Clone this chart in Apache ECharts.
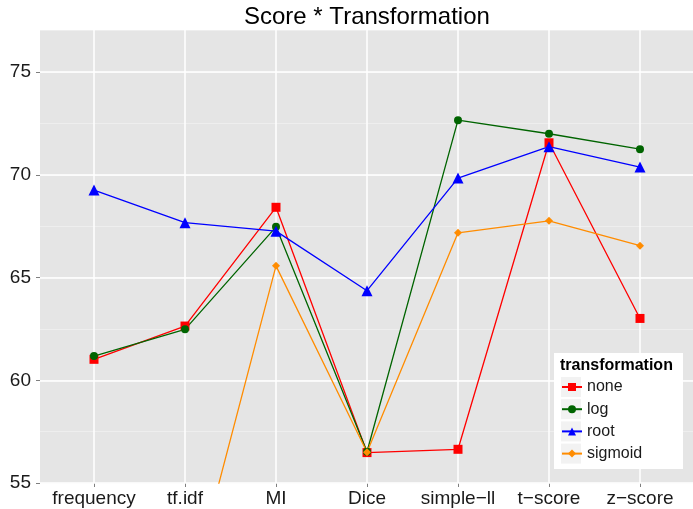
<!DOCTYPE html>
<html><head><meta charset="utf-8">
<script src="https://cdn.jsdelivr.net/npm/echarts@6/dist/echarts.min.js"></script>
<style>html,body{margin:0;padding:0;background:#fff}#c{width:693px;height:509px}</style>
</head><body><div id="c"></div>
<script>
const categories = ['frequency', 'tf.idf', 'MI', 'Dice', 'simple\u2212ll', 't\u2212score', 'z\u2212score'];
const seriesNames = ['none', 'log', 'root', 'sigmoid'];
const none = [61.02, 62.64, 68.42, 56.48, 56.64, 71.56, 63.01];
const log = [61.18, 62.48, 67.47, 56.52, 72.66, 72.00, 71.25];
const root = [69.26, 67.67, 67.26, 64.36, 69.84, 71.37, 70.38];
const sigmoid = [47.5, 48.7, 65.57, 56.50, 67.18, 67.76, 66.55];
const yTicks = [55, 60, 65, 70, 75];
const yMin = 55, yMax = 77.05;

const FONT = '"Liberation Sans", Arial, sans-serif';
const TXT = '#1a1a1a';
const TICK = '#7f7f7f';

const styles = [
  { color: '#ff0000', symbol: 'rect', size: 9 },
  { color: '#006400', symbol: 'circle', size: 8 },
  { color: '#0000ff', symbol: 'triangle', size: 11 },
  { color: '#ff8c00', symbol: 'diamond', size: 8 }
];
const values = [none, log, root, sigmoid];

const series = seriesNames.map((name, i) => ({
  name: name,
  type: 'line',
  xAxisIndex: 1,
  yAxisIndex: 2,
  data: values[i],
  symbol: styles[i].symbol,
  symbolSize: styles[i].size,
  showAllSymbol: true,
  clip: true,
  animation: false,
  lineStyle: { color: styles[i].color, width: 1.3 },
  itemStyle: { color: styles[i].color },
  emphasis: { disabled: true }
}));

const chart = echarts.init(document.getElementById('c'), null, { renderer: 'canvas' });
chart.setOption({
  animation: false,
  backgroundColor: '#ffffff',
  title: {
    text: 'Score * Transformation',
    left: 244, top: 5, padding: 0,
    textStyle: { fontSize: 24, fontWeight: 'normal', color: '#000', fontFamily: FONT }
  },
  grid: [
    { left: 40, right: -2, top: 30, bottom: 26, show: true, backgroundColor: '#e5e5e5', borderWidth: 0 },
    { left: 94, right: 53, top: 30, bottom: 26 }
  ],
  xAxis: [
    { type: 'value', gridIndex: 0, show: false, min: 0, max: 1 },
    {
      type: 'category', gridIndex: 1, data: categories, boundaryGap: false,
      axisLine: { show: false },
      axisTick: { show: true, length: 4, interval: 0, lineStyle: { color: TICK, width: 1 } },
      axisLabel: { interval: 0, fontSize: 19, color: TXT, fontFamily: FONT, margin: 6 },
      splitLine: { show: true, interval: 0, lineStyle: { color: '#ffffff', width: 1.5 } }
    }
  ],
  yAxis: [
    {
      type: 'value', gridIndex: 0, min: yMin, max: yMax, interval: 5,
      axisLine: { show: false },
      axisTick: { show: true, length: 4, customValues: yTicks, lineStyle: { color: TICK, width: 1 } },
      axisLabel: { customValues: yTicks, fontSize: 19, color: TXT, fontFamily: FONT, margin: 9 },
      splitLine: { show: true, lineStyle: { color: '#ffffff', width: 1.5 } },
      z: 1
    },
    {
      type: 'value', gridIndex: 0, min: yMin, max: yMax, interval: 2.5, position: 'left',
      axisLine: { show: false }, axisTick: { show: false }, axisLabel: { show: false },
      splitLine: { show: true, lineStyle: { color: '#f2f2f2', width: 0.7 } },
      z: 0
    },
    {
      type: 'value', gridIndex: 1, min: yMin, max: yMax, show: false,
      splitLine: { show: false }
    }
  ],
  legend: {
    data: seriesNames,
    orient: 'vertical',
    left: 561, top: 378, padding: 0,
    itemWidth: 20, itemHeight: 10, itemGap: 4.2,
    textStyle: { fontSize: 16, color: TXT, fontFamily: FONT, lineHeight: 18 },
    selectedMode: false,
    z: 10
  },
  graphic: [
    { type: 'rect', z: 3, shape: { x: 554, y: 353, width: 129, height: 116 }, style: { fill: '#ffffff' } },
    { type: 'rect', z: 4, shape: { x: 561, y: 377, width: 20, height: 20 }, style: { fill: '#f2f2f2' } },
    { type: 'rect', z: 4, shape: { x: 561, y: 399.2, width: 20, height: 20 }, style: { fill: '#f2f2f2' } },
    { type: 'rect', z: 4, shape: { x: 561, y: 421.4, width: 20, height: 20 }, style: { fill: '#f2f2f2' } },
    { type: 'rect', z: 4, shape: { x: 561, y: 443.6, width: 20, height: 20 }, style: { fill: '#f2f2f2' } },
    { type: 'text', z: 5, style: { text: 'transformation', x: 560, y: 366, fontSize: 16, fontWeight: 'bold', fontFamily: FONT, fill: '#000', verticalAlign: 'middle' } }
  ],
  series: series
});
</script>
</body></html>
